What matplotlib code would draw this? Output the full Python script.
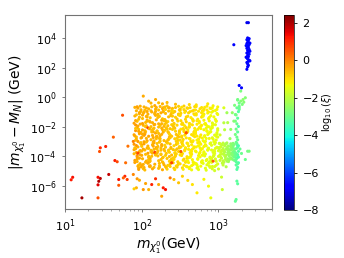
import numpy as np
import matplotlib.pyplot as plt

# values are log10(m_chi [GeV]), log10(|m_chi - M_N| [GeV]), log10(xi)

# sparse low-mass points (red)
lowmass = [
    (1.08, -5.58, 1.2), (1.10, -5.41, 1.3), (1.22, -6.80, 2.1), (1.43, -5.41, 1.3),
    (1.46, -5.49, 1.9), (1.44, -5.68, 2.0), (1.43, -5.92, 1.5), (1.43, -6.80, 0.6),
    (1.45, -3.67, 0.6), (1.46, -3.42, 1.0), (1.53, -3.33, 1.1), (1.57, -5.22, 1.8),
    (1.63, -2.70, 0.4), (1.65, -4.28, 1.2), (1.68, -4.36, 0.7), (1.70, -5.56, 1.3),
    (1.70, -5.95, 0.5), (1.75, -1.22, 0.6), (1.78, -5.34, 1.1), (1.76, -5.45, 0.4),
    (1.81, -5.56, 0.8), (1.79, -4.43, 0.3), (1.82, -3.31, 0.2), (1.89, -2.99, 0.1),
    (1.90, -6.19, -0.8), (1.89, -5.22, 0.0),
]

# main cloud, 80 GeV - 1 TeV
cloud = [
    (1.93, -2.83, -0.4), (1.97, -1.12, -0.5), (1.91, -4.41, -0.3), (1.99, -3.07, -0.6), (1.95, -0.74, -0.4),
    (1.92, -2.26, -0.2), (1.98, -3.89, -0.5), (1.94, -1.63, -0.7), (1.96, -4.78, -0.4), (1.90, -2.54, -0.3),
    (1.95, -3.36, -0.5), (1.99, -0.96, -0.6), (1.92, -1.88, -0.2), (1.97, -4.12, -0.4), (1.93, -2.69, -0.6),
    (1.98, -3.61, -0.3), (1.91, -1.27, -0.5), (1.96, -4.59, -0.7), (1.94, -2.05, -0.4), (1.90, -3.18, -0.2),
    (1.98, -0.61, -0.5), (1.93, -3.74, -0.4), (1.96, -1.49, -0.6), (1.91, -4.27, -0.3), (1.99, -2.38, -0.5),
    (1.94, -3.95, -0.1), (1.97, -1.04, -0.4), (1.92, -2.91, -0.6), (1.95, -4.66, -0.5), (1.90, -1.76, -0.3),
    (1.92, -3.48, -0.4), (1.96, -2.17, -0.7), (1.99, -0.85, -0.5), (1.94, -4.03, -0.3), (1.91, -2.62, -0.4),
    (1.97, -1.35, -0.6), (1.93, -3.27, -0.2), (1.98, -4.49, -0.5), (1.95, -1.95, -0.4), (1.90, -3.82, -0.6),
    (1.97, -2.47, -0.3), (1.91, -0.69, -0.5), (1.94, -4.19, -0.4), (1.98, -3.11, -0.7), (1.92, -1.58, -0.4),
    (1.99, -2.76, -0.5), (1.96, -4.88, -0.3), (1.93, -1.19, -0.6), (1.90, -3.55, -0.4), (1.95, -2.99, -0.2),
    (1.94, -4.35, -0.5), (1.98, -1.82, -0.4), (1.91, -3.42, -0.6), (1.96, -2.31, -0.3), (1.93, -0.92, -0.5),
    (1.99, -4.71, -0.4), (1.92, -2.11, -0.7), (1.97, -3.68, -0.5),
    (2.06, -2.78, -0.5), (2.01, -1.21, -0.4), (2.08, -4.46, -0.6), (2.03, -3.01, -0.3), (2.09, -0.79, -0.5),
    (2.05, -2.33, -0.7), (2.00, -3.93, -0.4), (2.07, -1.55, -0.5), (2.02, -4.83, -0.6), (2.04, -2.49, -0.2),
    (2.08, -3.30, -0.5), (2.03, -1.01, -0.4), (2.06, -1.93, -0.6), (2.01, -4.16, -0.5), (2.09, -2.64, -0.3),
    (2.04, -3.57, -0.6), (2.07, -1.33, -0.4), (2.02, -4.54, -0.5), (2.05, -2.00, -0.7), (2.00, -3.23, -0.4),
    (2.03, -0.66, -0.5), (2.08, -3.79, -0.3), (2.01, -1.44, -0.6), (2.06, -4.31, -0.5), (2.04, -2.42, -0.4),
    (2.09, -3.99, -0.6), (2.02, -1.09, -0.5), (2.07, -2.95, -0.3), (2.00, -4.62, -0.4), (2.05, -1.71, -0.6),
    (2.07, -3.44, -0.5), (2.01, -2.21, -0.4), (2.04, -0.88, -0.6), (2.09, -4.07, -0.5), (2.03, -2.58, -0.3),
    (2.06, -1.30, -0.5), (2.00, -3.32, -0.7), (2.08, -4.44, -0.4), (2.02, -1.90, -0.5), (2.05, -3.86, -0.6),
    (2.01, -2.51, -0.4), (2.06, -0.73, -0.5), (2.09, -4.23, -0.6), (2.03, -3.15, -0.3), (2.07, -1.62, -0.5),
    (2.00, -2.72, -0.4), (2.04, -4.92, -0.6), (2.08, -1.15, -0.5), (2.02, -3.51, -0.4), (2.06, -3.03, -0.6),
    (2.05, -4.39, -0.5), (2.01, -1.78, -0.3), (2.09, -3.46, -0.6), (2.04, -2.27, -0.5), (2.07, -0.97, -0.4),
    (2.03, -4.75, -0.5), (2.08, -2.07, 0.8), (2.00, -3.64, -0.5),
    (2.12, -2.87, -0.6), (2.17, -1.07, -0.5), (2.10, -4.37, -0.4), (2.15, -3.12, -0.6), (2.19, -0.70, -0.5),
    (2.13, -2.22, -0.7), (2.18, -3.84, -0.5), (2.11, -1.68, -0.4), (2.16, -4.74, -0.6), (2.14, -2.58, -0.5),
    (2.19, -3.40, -0.3), (2.12, -0.92, -0.6), (2.17, -1.84, -0.5), (2.10, -4.08, -0.7), (2.15, -2.73, -0.4),
    (2.13, -3.65, -0.6), (2.18, -1.23, -0.5), (2.11, -4.63, -0.4), (2.16, -2.09, -0.6), (2.14, -3.22, -0.5),
    (2.17, -0.57, -0.4), (2.12, -3.70, -0.6), (2.19, -1.53, -0.5), (2.10, -4.23, -0.7), (2.15, -2.34, -0.4),
    (2.18, -3.91, -0.6), (2.13, -1.00, -0.5), (2.16, -2.95, -0.4), (2.11, -4.70, -0.6), (2.14, -1.72, -0.5),
    (2.16, -3.52, -0.6), (2.10, -2.13, -0.4), (2.18, -0.81, -0.5), (2.13, -3.99, -0.6), (2.19, -2.66, -0.5),
    (2.11, -1.39, -0.7), (2.15, -3.31, -0.4), (2.17, -4.53, -0.5), (2.12, -1.99, -0.6), (2.14, -3.78, -0.5),
    (2.18, -2.43, -0.4), (2.13, -0.65, -0.6), (2.11, -4.15, -0.5), (2.16, -3.07, -0.3), (2.10, -1.62, -0.5),
    (2.19, -2.80, -0.6), (2.14, -4.84, -0.4), (2.17, -1.15, -0.5), (2.12, -3.59, -0.6), (2.15, -3.04, -0.5),
    (2.11, -4.31, -0.6), (2.16, -1.86, -0.4), (2.19, -3.46, -0.5), (2.13, -2.35, -0.6), (2.18, -0.96, -0.5),
    (2.10, -4.67, -0.4), (2.15, -2.15, -0.6), (2.17, -3.72, 0.7),
    (2.24, -2.80, -0.6), (2.21, -1.16, -0.5), (2.28, -4.44, -0.7), (2.23, -3.04, -0.6), (2.27, -0.77, -0.4),
    (2.20, -2.29, -0.6), (2.25, -3.87, -0.5), (2.29, -1.60, -0.7), (2.22, -4.81, -0.6), (2.26, -2.51, -0.5),
    (2.21, -3.33, -0.6), (2.28, -0.99, -0.4), (2.24, -1.91, -0.7), (2.27, -4.10, -0.6), (2.20, -2.66, -0.5),
    (2.25, -3.58, -0.6), (2.23, -1.30, -0.7), (2.29, -4.56, -0.5), (2.22, -2.02, -0.6), (2.26, -3.20, -0.4),
    (2.24, -0.63, -0.6), (2.20, -3.77, -0.5), (2.27, -1.46, -0.7), (2.22, -4.29, -0.6), (2.28, -2.36, -0.5),
    (2.21, -3.97, -0.6), (2.25, -1.06, -0.4), (2.29, -2.93, -0.6), (2.23, -4.64, -0.7), (2.26, -1.79, -0.5),
    (2.20, -3.50, -0.6), (2.27, -2.19, -0.5), (2.22, -0.87, -0.6), (2.28, -4.05, -0.7), (2.24, -2.60, -0.5),
    (2.21, -1.37, -0.6), (2.26, -3.29, -0.4), (2.23, -4.47, -0.6), (2.29, -1.97, -0.5), (2.25, -3.84, -0.7),
    (2.22, -2.45, -0.6), (2.28, -0.71, -0.5), (2.25, -4.21, -0.6), (2.20, -3.13, -0.7), (2.26, -1.56, -0.5),
    (2.23, -2.78, -0.6), (2.27, -4.90, -0.4), (2.21, -1.21, -0.6), (2.29, -3.53, -0.5), (2.24, -2.97, -0.7),
    (2.27, -4.37, -0.6), (2.22, -1.80, -0.5), (2.25, -3.44, -0.6), (2.20, -2.29, -0.7), (2.28, -0.94, -0.5),
    (2.23, -4.73, -0.6), (2.26, -2.09, -0.5), (2.21, -3.66, -0.6),
    (2.35, -2.85, -0.7), (2.31, -1.10, -0.6), (2.38, -4.39, -0.8), (2.33, -3.09, -0.7), (2.36, -0.72, -0.5),
    (2.30, -2.24, -0.7), (2.39, -3.91, -0.6), (2.34, -1.65, -0.8), (2.32, -4.76, -0.7), (2.37, -2.56, -0.6),
    (2.31, -3.38, -0.7), (2.35, -0.94, -0.6), (2.39, -1.86, -0.8), (2.33, -4.14, -0.7), (2.36, -2.71, -0.5),
    (2.30, -3.63, -0.7), (2.38, -1.25, -0.6), (2.34, -4.61, -0.8), (2.32, -2.07, -0.7), (2.37, -3.16, -0.6),
    (2.33, -0.59, -0.7), (2.36, -3.72, -0.8), (2.30, -1.51, -0.6), (2.38, -4.25, -0.7), (2.35, -2.40, -0.6),
    (2.31, -3.93, -0.8), (2.39, -1.02, -0.7), (2.34, -2.89, -0.6), (2.37, -4.68, -0.8), (2.32, -1.74, -0.7),
    (2.38, -3.46, -0.6), (2.33, -2.15, -0.7), (2.31, -0.83, -0.8), (2.36, -4.01, -0.6), (2.39, -2.64, -0.7),
    (2.35, -1.33, -0.6), (2.30, -3.25, -0.8), (2.37, -4.51, -0.7), (2.34, -1.93, -0.6), (2.32, -3.80, -0.7),
    (2.36, -2.49, -0.8), (2.30, -0.67, -0.6), (2.39, -4.17, -0.7), (2.34, -3.09, -0.8), (2.31, -1.60, -0.6),
    (2.37, -2.74, -0.7), (2.33, -4.86, -0.8), (2.38, -1.17, -0.6), (2.35, -3.57, -0.7), (2.32, -3.01, -0.6),
    (2.36, -4.33, -0.8), (2.30, -1.84, -0.7), (2.38, -3.40, -0.6), (2.34, -2.33, -0.7), (2.39, -0.90, -0.8),
    (2.31, -4.69, -0.6), (2.37, -2.13, -0.7), (2.35, -3.66, -0.8),
    (2.43, -2.81, -0.8), (2.48, -1.14, -0.7), (2.41, -4.43, -0.9), (2.46, -3.05, -0.8), (2.40, -0.76, -0.6),
    (2.49, -2.27, -0.8), (2.44, -3.88, -0.7), (2.47, -1.61, -0.9), (2.42, -4.80, -0.8), (2.45, -2.52, -0.7),
    (2.49, -3.34, -0.8), (2.43, -0.97, -0.7), (2.46, -1.89, -0.9), (2.41, -4.11, -0.8), (2.48, -2.68, -0.6),
    (2.44, -3.59, -0.8), (2.40, -1.28, -0.7), (2.47, -4.57, -0.9), (2.42, -2.04, -0.8), (2.45, -3.19, -0.7),
    (2.48, -0.62, -0.8), (2.43, -3.76, -0.9), (2.46, -1.47, -0.7), (2.40, -4.28, -0.8), (2.49, -2.37, -0.7),
    (2.44, -3.96, -0.9), (2.41, -1.05, -0.8), (2.47, -2.92, -0.7), (2.45, -4.65, -0.9), (2.42, -1.77, -0.8),
    (2.46, -3.49, -0.7), (2.40, -2.18, -0.8), (2.49, -0.86, -0.9), (2.43, -4.04, -0.8), (2.47, -2.61, -0.7),
    (2.44, -1.36, -0.8), (2.42, -3.28, -0.9), (2.48, -4.48, -0.8), (2.41, -1.96, -0.7), (2.45, -3.83, -0.8),
    (2.49, -2.46, -0.9), (2.44, -0.70, -0.7), (2.42, -4.20, -0.8), (2.47, -3.12, -0.9), (2.40, -1.57, -0.7),
    (2.46, -2.77, -0.8), (2.43, -4.89, -0.9), (2.48, -1.20, -0.8), (2.41, -3.54, -0.7), (2.45, -2.98, -0.8),
    (2.47, -4.36, -0.9), (2.42, -1.81, -0.8), (2.49, -3.43, -0.7), (2.44, -2.30, -0.8), (2.40, -0.93, -0.9),
    (2.46, -4.72, -0.8), (2.43, -2.10, -0.7), (2.48, -3.67, -0.8),
    (2.54, -2.86, -0.9), (2.51, -1.09, -0.8), (2.57, -4.40, -1.0), (2.52, -3.06, -0.9), (2.59, -0.73, -0.8),
    (2.55, -2.23, -0.9), (2.50, -3.90, -1.0), (2.58, -1.66, -0.8), (2.53, -4.77, -0.9), (2.56, -2.57, -1.0),
    (2.51, -3.37, -0.9), (2.57, -0.95, -0.8), (2.54, -1.85, -1.0), (2.59, -4.13, -0.9), (2.52, -2.70, -0.8),
    (2.56, -3.62, -1.0), (2.50, -1.24, -0.9), (2.55, -4.60, -1.0), (2.58, -2.06, -0.8), (2.53, -3.17, -0.9),
    (2.55, -0.60, -0.8), (2.51, -3.73, -1.0), (2.57, -1.50, -0.9), (2.54, -4.26, -1.0), (2.59, -2.39, -0.8),
    (2.52, -3.94, -0.9), (2.56, -1.03, -1.0), (2.50, -2.90, -0.9), (2.58, -4.67, -1.1), (2.53, -1.75, -0.9),
    (2.57, -3.47, -0.8), (2.51, -2.16, -1.0), (2.55, -0.84, -0.9), (2.59, -4.02, -1.0), (2.52, -2.63, -0.9),
    (2.58, -1.34, -0.8), (2.54, -3.26, -1.0), (2.50, -4.50, -0.9), (2.56, -1.94, -1.0), (2.53, -3.81, -0.9),
    (2.57, -2.48, -0.8), (2.52, -0.68, -1.0), (2.55, -4.18, -0.9), (2.59, -3.10, -1.0), (2.51, -1.59, -0.9),
    (2.58, -2.75, -1.0), (2.54, -4.87, -1.1), (2.50, -1.18, -0.9), (2.56, -3.56, -1.0), (2.53, -3.00, -0.9),
    (2.58, -4.34, -1.0), (2.52, -1.83, -0.9), (2.57, -3.41, -1.1), (2.55, -2.32, -0.9), (2.50, -0.91, -1.0),
    (2.59, -4.70, -1.1), (2.54, -2.12, -0.9), (2.51, -3.67, 0.5),
    (2.63, -2.82, -1.0), (2.68, -1.13, -0.9), (2.61, -4.42, -1.1), (2.66, -3.02, -1.0), (2.60, -0.75, -0.9),
    (2.69, -2.28, -1.1), (2.64, -3.86, -1.0), (2.67, -1.62, -0.9), (2.62, -4.82, -1.2), (2.65, -2.53, -1.0),
    (2.68, -3.35, -1.1), (2.63, -0.98, -0.9), (2.66, -1.87, -1.0), (2.61, -4.09, -1.1), (2.69, -2.67, -1.0),
    (2.64, -3.60, -1.1), (2.60, -1.29, -0.9), (2.67, -4.55, -1.2), (2.62, -2.03, -1.0), (2.65, -3.21, -1.1),
    (2.69, -0.64, -0.9), (2.63, -3.75, -1.1), (2.66, -1.48, -1.0), (2.60, -4.30, -1.2), (2.68, -2.35, -1.0),
    (2.64, -3.98, -1.1), (2.61, -1.06, -0.9), (2.67, -2.94, -1.1), (2.65, -4.63, -1.2), (2.62, -1.78, -1.0),
    (2.66, -3.51, -1.1), (2.60, -2.20, -1.0), (2.68, -0.88, -0.9), (2.63, -4.06, -1.2), (2.67, -2.59, -1.0),
    (2.64, -1.38, -1.1), (2.61, -3.30, -1.0), (2.69, -4.45, -1.2), (2.62, -1.97, -1.0), (2.65, -3.85, -1.1),
    (2.68, -2.44, -1.0), (2.63, -0.71, -0.9), (2.66, -4.22, -1.2), (2.60, -3.14, -1.1), (2.67, -1.56, -1.0),
    (2.62, -2.79, -1.1), (2.65, -4.91, -1.3), (2.69, -1.19, -1.0), (2.61, -3.52, -1.1), (2.64, -2.99, -1.0),
    (2.67, -4.38, -1.2), (2.63, -1.81, -1.0), (2.68, -3.43, -1.1), (2.60, -2.31, -1.0), (2.66, -0.93, -0.9),
    (2.62, -4.73, -1.2), (2.69, -2.11, -1.1), (2.65, -3.67, -1.1),
    (2.74, -2.84, -1.1), (2.71, -1.11, -1.0), (2.78, -4.41, -1.3), (2.73, -3.08, -1.1), (2.76, -0.78, -1.0),
    (2.70, -2.25, -1.2), (2.79, -3.92, -1.2), (2.75, -1.64, -1.1), (2.72, -4.79, -1.3), (2.77, -2.55, -1.1),
    (2.71, -3.36, -1.2), (2.74, -0.95, -1.0), (2.78, -1.90, -1.1), (2.73, -4.15, -1.3), (2.76, -2.69, -1.1),
    (2.70, -3.64, -1.2), (2.79, -1.26, -1.0), (2.72, -4.58, -1.3), (2.75, -2.05, -1.1), (2.77, -3.18, -1.2),
    (2.71, -0.63, -1.0), (2.76, -3.73, -1.2), (2.73, -1.49, -1.1), (2.79, -4.29, -1.3), (2.70, -2.41, -1.1),
    (2.74, -3.95, -1.2), (2.78, -1.05, -1.0), (2.72, -2.90, -1.2), (2.77, -4.66, -1.3), (2.75, -1.73, -1.1),
    (2.79, -3.48, -1.2), (2.73, -2.17, -1.1), (2.70, -0.86, -1.0), (2.76, -4.03, -1.3), (2.72, -2.63, -1.1),
    (2.78, -1.35, -1.0), (2.74, -3.28, -1.2), (2.71, -4.49, -1.3), (2.77, -1.95, -1.1), (2.75, -3.81, -1.2),
    (2.70, -2.48, -1.1), (2.78, -0.70, -1.0), (2.73, -4.20, -1.3), (2.76, -3.12, -1.2), (2.72, -1.59, -1.1),
    (2.79, -2.76, -1.2), (2.74, -4.89, -1.4), (2.71, -1.20, -1.0), (2.77, -3.56, -1.2), (2.75, -3.01, -1.1),
    (2.78, -4.35, -1.3), (2.72, -1.83, -1.1), (2.76, -3.42, -1.2), (2.70, -2.33, -1.1), (2.79, -0.92, -1.0),
    (2.73, -4.72, -1.4), (2.77, -2.12, -1.2), (2.71, -3.69, -1.2),
    (2.84, -2.79, -1.3), (2.81, -1.15, -1.1), (2.87, -4.45, -1.4), (2.82, -3.03, -1.3), (2.89, -0.74, -1.1),
    (2.85, -2.28, -1.2), (2.80, -3.89, -1.3), (2.88, -1.60, -1.2), (2.83, -4.80, -1.5), (2.86, -2.52, -1.3),
    (2.81, -3.33, -1.2), (2.87, -1.00, -1.1), (2.84, -1.88, -1.3), (2.89, -4.10, -1.4), (2.82, -2.65, -1.2),
    (2.86, -3.58, -1.3), (2.80, -1.29, -1.2), (2.85, -4.57, -1.5), (2.88, -2.01, -1.3), (2.83, -3.21, -1.2),
    (2.85, -0.61, -1.1), (2.81, -3.76, -1.4), (2.87, -1.45, -1.2), (2.84, -4.28, -1.4), (2.89, -2.36, -1.3),
    (2.82, -3.97, -1.4), (2.86, -1.07, -1.2), (2.80, -2.94, -1.3), (2.88, -4.64, -1.5), (2.83, -1.78, -1.2),
    (2.87, -3.50, -1.3), (2.81, -2.20, -1.2), (2.85, -0.87, -1.1), (2.89, -4.05, -1.4), (2.82, -2.60, -1.3),
    (2.88, -1.37, -1.2), (2.84, -3.29, -1.3), (2.80, -4.47, -1.4), (2.86, -1.98, -1.3), (2.83, -3.84, -1.4),
    (2.87, -2.45, -1.3), (2.82, -0.69, -1.1), (2.85, -4.21, -1.4), (2.89, -3.13, -1.3), (2.81, -1.56, -1.2),
    (2.88, -2.79, -1.3), (2.84, -4.93, -1.5), (2.80, -1.22, -1.2), (2.86, -3.54, -1.4), (2.83, -2.98, -1.3),
    (2.88, -4.37, -1.5), (2.82, -1.81, -1.2), (2.87, -3.44, -1.4), (2.85, -2.30, -1.3), (2.80, -0.95, -1.1),
    (2.89, -4.74, -1.5), (2.84, -2.10, -1.3), (2.81, -3.69, -1.3),
    (2.93, -2.83, -1.4), (2.98, -1.10, -1.3), (2.91, -4.40, -1.5), (2.96, -3.07, -1.4), (2.90, -0.77, -1.2),
    (2.99, -2.24, -1.5), (2.94, -3.91, -1.5), (2.97, -1.63, -1.3), (2.92, -4.84, -1.6), (2.95, -2.56, -1.4),
    (2.98, -3.38, -1.5), (2.93, -0.94, -1.2), (2.96, -1.86, -1.4), (2.91, -4.14, -1.5), (2.99, -2.70, -1.4),
    (2.94, -3.61, -1.5), (2.90, -1.25, -1.3), (2.97, -4.60, -1.6), (2.92, -2.06, -1.4), (2.95, -3.17, -1.5),
    (2.99, -0.66, -1.2), (2.93, -3.73, -1.5), (2.96, -1.50, -1.3), (2.90, -4.25, -1.6), (2.98, -2.40, -1.4),
    (2.94, -3.94, -1.5), (2.91, -1.02, -1.3), (2.97, -2.89, -1.4), (2.95, -4.69, -1.6), (2.92, -1.74, -1.4),
    (2.96, -3.46, -1.5), (2.90, -2.15, -1.4), (2.98, -0.83, -1.2), (2.93, -4.01, -1.6), (2.97, -2.64, -1.4),
    (2.94, -1.33, -1.3), (2.91, -3.25, -1.5), (2.99, -4.51, -1.6), (2.92, -1.93, -1.4), (2.95, -3.80, -1.5),
    (2.98, -2.49, -1.5), (2.93, -0.58, -1.2), (2.96, -4.17, -1.6), (2.90, -3.09, -1.5), (2.97, -1.60, -1.3),
    (2.92, -2.74, -1.4), (2.95, -4.96, -1.7), (2.99, -1.17, -1.3), (2.91, -3.57, -1.5), (2.94, -3.00, -1.4),
    (2.97, -4.33, -1.6), (2.93, -1.84, -1.4), (2.98, -3.40, -1.5), (2.90, -2.33, -1.4), (2.96, -0.90, -1.3),
    (2.92, -4.68, -1.6), (2.99, -2.13, -1.5), (2.95, -3.66, -1.5),
    (2.58, -2.40, 0.6), (2.39, -4.43, 0.8), (2.93, -4.32, 0.4), (1.95, -3.78, 0.7),
    (2.27, -0.45, -0.5), (2.62, -0.50, -0.9), (2.44, -0.48, -0.6), (2.12, -0.40, -0.5), (2.86, -0.45, -1.1),
    (2.71, -0.52, -1.0), (2.33, -0.36, -0.6),
]

# yellow-green band, 1 - 1.6 TeV
band = [
    (3.01, -3.12, -1.7), (3.03, -3.35, -1.8), (3.05, -3.58, -1.9), (3.07, -3.81, -2.0), (3.09, -4.04, -2.1),
    (3.02, -4.27, -1.8), (3.04, -3.21, -1.9), (3.06, -3.47, -2.0), (3.08, -3.70, -2.1), (3.10, -3.93, -2.2),
    (3.12, -4.16, -2.3), (3.11, -3.09, -2.2), (3.13, -3.30, -2.3), (3.15, -3.54, -2.5), (3.17, -3.77, -2.6),
    (3.19, -4.00, -2.7), (3.14, -4.23, -2.4), (3.16, -3.15, -2.5), (3.18, -3.42, -2.7), (3.20, -3.65, -2.8),
    (3.21, -3.88, -2.9), (3.16, -4.10, -2.6), (3.00, -3.62, -1.6), (3.02, -3.90, -1.8), (3.04, -4.12, -1.9),
    (3.06, -3.10, -1.9), (3.08, -3.28, -2.0), (3.10, -3.52, -2.2), (3.12, -3.74, -2.3), (3.14, -3.97, -2.4),
    (3.18, -4.19, -2.7), (3.20, -3.20, -2.8), (3.21, -3.50, -2.9), (3.19, -3.72, -2.8), (3.13, -3.60, -2.4),
    (3.05, -3.84, -1.9), (3.09, -3.18, -2.1), (3.11, -4.32, -2.2), (3.15, -3.85, -2.5), (3.17, -3.25, -2.6),
    (3.07, -4.40, -2.0), (3.03, -3.73, -1.8), (3.01, -3.40, -1.7), (3.19, -3.32, -2.8), (3.21, -4.05, -3.0),
    (3.01, -3.50, -1.7), (3.03, -4.05, -1.8), (3.05, -3.22, -1.9), (3.07, -3.60, -2.0), (3.09, -4.20, -2.1),
    (3.11, -3.40, -2.2), (3.13, -3.85, -2.3), (3.15, -4.15, -2.4), (3.17, -3.55, -2.6), (3.19, -3.12, -2.7),
    (3.21, -3.78, -2.9), (3.02, -3.15, -1.7), (3.04, -3.62, -1.8), (3.06, -4.30, -1.9), (3.08, -3.95, -2.0),
    (3.10, -3.15, -2.2), (3.12, -3.48, -2.3), (3.14, -3.70, -2.4), (3.16, -3.35, -2.5), (3.18, -3.90, -2.7),
    (3.20, -4.25, -2.8), (3.00, -4.00, -1.6), (3.05, -4.45, -1.9), (3.13, -4.35, -2.3),
    (3.06, -4.58, -1.9), (3.10, -4.70, -2.1), (3.00, -4.85, -1.7), (3.04, -5.40, -1.8), (3.02, -2.55, -1.7),
    (3.08, -2.20, -2.0), (3.12, -1.72, -2.1), (3.15, -2.80, -2.4), (3.18, -1.05, -2.5),
]

# green strip near 1.8 TeV
strip = [
    (3.23, -3.05, -3.0), (3.24, -3.20, -3.1), (3.25, -3.36, -3.2), (3.22, -3.51, -2.9), (3.26, -3.66, -3.3),
    (3.23, -3.82, -3.1), (3.25, -3.97, -3.2), (3.24, -4.12, -3.3), (3.22, -4.28, -3.0), (3.26, -4.43, -3.4),
    (3.23, -4.58, -3.2), (3.25, -4.74, -3.3), (3.24, -3.13, -3.1), (3.22, -3.74, -3.0), (3.26, -4.05, -3.4),
    (3.23, -4.36, -3.2), (3.25, -2.88, -3.1), (3.24, -2.70, -3.0), (3.22, -2.52, -2.9), (3.25, -2.35, -3.2),
    (3.23, -2.16, -3.0), (3.26, -1.98, -3.3), (3.24, -1.80, -3.1), (3.22, -1.62, -2.9), (3.25, -1.42, -3.2),
    (3.23, -1.20, -3.0), (3.26, -0.98, -3.3), (3.24, -0.72, -3.1), (3.21, -0.55, -2.8), (3.27, -0.40, -3.0),
    (3.25, -0.20, -2.9), (3.24, -4.88, -3.3), (3.24, -5.67, -3.2), (3.23, -6.91, -3.1), (3.28, -3.50, -3.1),
    (3.30, -3.80, -3.0), (3.38, -3.65, -2.9), (3.24, -3.45, -3.2), (3.25, -3.88, -3.3), (3.23, -4.20, -3.1),
    (3.26, -3.28, -3.4), (3.22, -3.95, -3.0), (3.25, -4.50, -3.2),
]

# scattered points around the cloud
scatter = [
    (1.94, -5.51, -0.2), (1.97, -5.61, -0.4), (2.05, -5.83, -0.3), (2.09, -6.24, -0.5), (2.18, -5.51, 1.0),
    (2.13, -5.90, 1.1), (2.22, -5.90, -0.4), (2.28, -6.12, 1.2), (2.31, -6.24, 1.3), (2.37, -5.45, 0.2),
    (2.42, -5.56, -0.6), (2.48, -5.78, -0.7), (2.53, -5.34, -0.8), (2.66, -5.90, -1.0), (2.72, -6.46, -1.1),
    (2.26, -6.69, -0.3), (2.02, -6.24, -0.2), (1.93, -6.12, -0.5), (2.87, -6.01, -1.3), (2.90, -6.80, -1.4),
    (3.05, -6.24, -1.8), (2.81, -5.55, -1.2), (2.60, -5.62, -0.9),
    (2.02, 0.07, -0.4), (1.94, -0.65, -0.3), (2.09, -0.27, -0.5), (2.18, -0.16, -0.4), (2.22, -0.38, -0.6),
    (2.35, -0.72, -0.5), (2.50, -0.83, -0.7), (2.81, -0.83, -1.0), (2.92, -0.72, -1.2), (3.07, -0.72, -1.6),
    (3.31, -0.49, -2.8), (3.33, -0.34, -2.7), (3.27, -0.72, -3.0), (3.22, -1.17, -2.9), (3.20, -1.62, -2.7),
    (3.16, -2.18, -2.5), (3.40, -3.65, -2.8), (3.35, -4.21, -3.0), (3.11, -1.05, -2.3), (3.07, -1.73, -2.0),
    (3.29, 0.41, -2.8), (3.25, -0.16, -2.9), (3.29, -0.27, -2.7), (3.32, -0.16, -2.6), (3.35, -0.04, -2.7),
    (3.27, -0.61, -3.0), (3.27, -0.83, -3.1), (3.22, -7.03, -3.1), (3.25, -5.85, -3.2),
]

# blue points, ~2.4 TeV
blue = [
    (3.27, 0.79, -6.8), (3.30, 0.63, -6.7), (3.20, 3.54, -6.8), (3.37, 5.03, -7.0), (3.39, 5.03, -7.0),
    (3.38, 4.00, -6.8), (3.37, 3.88, -6.6), (3.39, 3.80, -6.8), (3.38, 3.70, -6.7), (3.37, 3.62, -6.8),
    (3.40, 3.55, -6.5), (3.38, 3.46, -6.8), (3.39, 3.38, -6.7), (3.37, 3.30, -6.8), (3.40, 3.22, -6.6),
    (3.38, 3.15, -6.8), (3.39, 3.06, -6.7), (3.37, 2.98, -6.8), (3.40, 2.90, -6.5), (3.38, 2.82, -6.8),
    (3.39, 2.74, -6.7), (3.37, 2.66, -6.8), (3.38, 2.58, -6.6), (3.40, 2.50, -6.8), (3.39, 2.42, -6.7),
    (3.37, 2.34, -6.8), (3.38, 2.25, -6.6), (3.39, 2.15, -6.8), (3.38, 2.05, -6.7), (3.37, 1.88, -6.8),
    (3.40, 3.95, -6.7), (3.41, 3.65, -6.8), (3.36, 3.48, -6.6), (3.41, 3.10, -6.8), (3.36, 2.70, -6.7),
    (3.41, 2.45, -6.8),
]

pts = np.array(cloud + band + strip + scatter + lowmass + blue)
mass = 10 ** pts[:, 0]
dm = 10 ** pts[:, 1]
xi = pts[:, 2]

fig = plt.figure(figsize=(3.44, 2.58), dpi=100)
ax = fig.add_axes([0.189, 0.19, 0.602, 0.752])
cax = fig.add_axes([0.826, 0.186, 0.029, 0.756])

sc = ax.scatter(mass, dm, c=xi, cmap='jet', vmin=-8, vmax=2.43, s=5, linewidths=0)
ax.set_xscale('log')
ax.set_yscale('log')
ax.set_xlim(10, 5000)
ax.set_ylim(10 ** -7.55, 10 ** 5.55)
ax.set_yticks([1e-6, 1e-4, 1e-2, 1e0, 1e2, 1e4])
ax.tick_params(labelsize=8, length=2.5, width=0.6, color='0.4')
ax.tick_params(which='minor', length=1.5, width=0.4, color='0.4')
for sp in ax.spines.values():
    sp.set_color('0.45')
    sp.set_linewidth(0.8)
ax.set_xlabel(r'$m_{\chi_1^0}$(GeV)', fontsize=10, labelpad=1)
ax.set_ylabel(r'$|m_{\chi_1^0}-M_N|$ (GeV)', fontsize=10, labelpad=1)

cb = fig.colorbar(sc, cax=cax, ticks=[2, 0, -2, -4, -6, -8])
cb.ax.tick_params(labelsize=8, length=2.5, width=0.6)
cb.outline.set_linewidth(0.5)
cb.set_label(r'$\log_{10}(\xi)$', fontsize=7, labelpad=1)

fig.savefig('out.png', dpi=100)
